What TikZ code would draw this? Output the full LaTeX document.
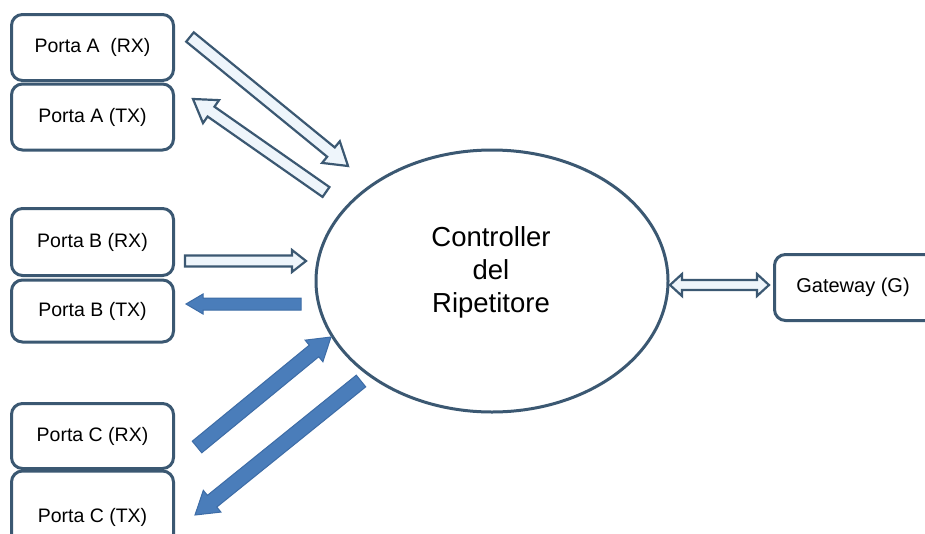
\documentclass[tikz,border=0pt]{standalone}
\usepackage{fontspec}
\setmainfont{Liberation Sans}
\usetikzlibrary{calc,shapes.geometric}
\definecolor{edge}{HTML}{3B5872}
\definecolor{hollow}{HTML}{EEF5FB}
\definecolor{solid}{HTML}{4A7DBA}
\definecolor{solidedge}{HTML}{3D6CA6}

% Block arrow: style, tail, tip, shaft half width, head half width, head length
\newcommand\blockarrow[6]{%
  \coordinate (ba-h) at ($(#3)!#6!(#2)$);
  \draw[#1] ($(#2)!#4!90:(#3)$) -- ($(ba-h)!#4!-90:(#2)$) -- ($(ba-h)!#5!-90:(#2)$)
    -- (#3) -- ($(ba-h)!#5!90:(#2)$) -- ($(ba-h)!#4!90:(#2)$) -- ($(#2)!#4!-90:(#3)$) -- cycle;}

% Double-headed block arrow: style, tip A, tip B, shaft half width, head half width, head length
\newcommand\twowayarrow[6]{%
  \coordinate (da-a) at ($(#2)!#6!(#3)$);
  \coordinate (da-b) at ($(#3)!#6!(#2)$);
  \draw[#1] (#2) -- ($(da-a)!#5!90:(#3)$) -- ($(da-a)!#4!90:(#3)$)
    -- ($(da-b)!#4!-90:(#2)$) -- ($(da-b)!#5!-90:(#2)$) -- (#3)
    -- ($(da-b)!#5!90:(#2)$) -- ($(da-b)!#4!90:(#2)$)
    -- ($(da-a)!#4!-90:(#3)$) -- ($(da-a)!#5!-90:(#3)$) -- cycle;}

\begin{document}
\begin{tikzpicture}[x=1pt,y=-1pt,
  portfont/.style={font=\fontsize{19.5}{22}\selectfont},
  port/.style={draw=edge, line width=3pt, rounded corners=11pt, fill=white,
    minimum width=162pt, inner sep=0pt, portfont},
  hub/.style={draw=edge, line width=3pt, ellipse, fill=white, inner sep=0pt,
    minimum width=352pt, minimum height=262pt},
  hubtext/.style={align=center, inner sep=0pt, font=\fontsize{27.5}{33}\selectfont},
  hollowarrow/.style={draw=edge, fill=hollow, line width=2.2pt, line join=miter},
  solidarrow/.style={draw=solidedge, fill=solid, line width=1pt, line join=miter}]
\useasboundingbox (0,0) rectangle (925,533);
\clip (0,0) rectangle (925,533);
\fill[white] (0,0) rectangle (925,533);

% ports
\node[port, minimum height=66pt] (arx) at (92.5,47.5) {Porta A\ \ (RX)};
\node[port, minimum height=66pt] (atx) at (92.5,117) {Porta A (TX)};
\node[port, minimum height=67pt] (brx) at (92.5,242) {Porta B (RX)};
\node[port, minimum height=62pt] (btx) at (92.5,311) {Porta B (TX)};
\node[port, minimum height=65pt] (crx) at (92.5,436) {Porta C (RX)};
\node[port, minimum height=74pt] (ctx) at (92.5,508) {};
\node[portfont] (ctxlabel) at (92.5,517) {Porta C (TX)};

% gateway
\node[port, minimum width=170pt, minimum height=66pt, anchor=west] (gw) at (773,287.5) {};
\node[font=\fontsize{20}{22}\selectfont] (gwlabel) at (853,287) {Gateway (G)};

% controller
\node[hub] (ctrl) at (492,281) {};
\node[hubtext, anchor=north] (ctrllabel) at (491,226) {Controller\\del\\Ripetitore};

% arrow ends
\coordinate (a1s) at (190,37);  \coordinate (a1e) at (348,166);
\coordinate (a2s) at (326,192); \coordinate (a2e) at (193,99);
\coordinate (b1s) at (185,261); \coordinate (b1e) at (306,261);
\coordinate (b2s) at (301,304); \coordinate (b2e) at (186,304);
\coordinate (c1s) at (197,447); \coordinate (c1e) at (331,337);
\coordinate (c2s) at (361,381); \coordinate (c2e) at (195,515);
\coordinate (g1) at (670,285);  \coordinate (g2) at (769,285);

\blockarrow{hollowarrow}{a1s}{a1e}{6pt}{14pt}{22pt}
\blockarrow{hollowarrow}{a2s}{a2e}{6pt}{14pt}{22pt}
\blockarrow{hollowarrow}{b1s}{b1e}{5.5pt}{11pt}{14pt}
\blockarrow{solidarrow}{b2s}{b2e}{6pt}{10pt}{17pt}
\blockarrow{solidarrow}{c1s}{c1e}{7.5pt}{14pt}{22pt}
\blockarrow{solidarrow}{c2s}{c2e}{7.5pt}{14pt}{22pt}
\twowayarrow{hollowarrow}{g1}{g2}{5pt}{11pt}{12pt}
\end{tikzpicture}
\end{document}
